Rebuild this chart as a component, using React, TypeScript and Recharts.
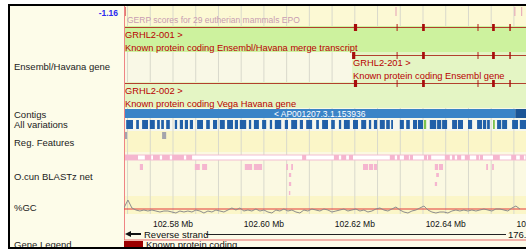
import React from "react";
import {
  ComposedChart,
  LineChart,
  Line,
  XAxis,
  YAxis,
  ReferenceArea,
  ReferenceLine,
} from "recharts";

const FONT = '"Liberation Sans", Arial, sans-serif';

// visible window on the chromosome, in kb
const VIEW_START = 102569.22;
const VIEW_END = 102657.66;
const ONE_PX = 0.22; // kb covered by one pixel at this zoom

// ruler: black 5 kb blocks start at these, labels at the ticks
const rulerBlocks = [102570, 102580, 102590, 102600, 102610, 102620, 102630, 102640, 102650];
const rulerTicks = [102580, 102600, 102620, 102640, 102660];

// GERP
const gerpMarks = [102569.4, 102628.95, 102655.1, 102656.6];

// transcripts
const transcriptIds = ["GRHL2-001", "GRHL2-201", "GRHL2-002"];
const transcriptTypes = [
  "Known protein coding Ensembl/Havana merge transcript",
  "Known protein coding Ensembl gene",
  "Known protein coding Vega Havana gene",
];
const transcriptStarts = [102480.0, 102619.4, 102480.0];
const transcriptEnds = [102720.0, 102720.0, 102720.0];
const exons001 = [
  [102619.8, 102620.5], [102629.2, 102629.4], [102634.8, 102635.4],
  [102647.0, 102647.2], [102650.2, 102650.8], [102654.0, 102654.3],
];
const exons201 = [
  [102619.4, 102620.1], [102629.2, 102629.4], [102634.8, 102635.4],
  [102647.0, 102647.2], [102650.2, 102650.8], [102654.0, 102654.3],
];
const exons002 = [
  [102619.8, 102620.5], [102629.2, 102629.4], [102634.8, 102635.4],
  [102647.0, 102647.2], [102650.2, 102650.8], [102654.0, 102654.3],
];
const transcriptExons = [exons001, exons201, exons002];

// contigs
const contigNames = ["< AP001207.3.1.153936", ""];
const contigStarts = [102500.0, 102655.3];
const contigEnds = [102655.3, 102720.0];

// variations
const variations = [
  [102569.7, 102571.2], [102571.9, 102572.5], [102573.2, 102574.5], [102574.9, 102576.0],
  [102576.5, 102577.1], [102577.4, 102578.0], [102578.5, 102579.3], [102580.4, 102580.9],
  [102581.5, 102582.2], [102582.6, 102583.3], [102583.7, 102584.4], [102585.3, 102586.6],
  [102587.3, 102588.1], [102588.8, 102589.7], [102590.3, 102591.4], [102591.9, 102593.2],
  [102593.6, 102594.3], [102594.7, 102596.1], [102596.7, 102597.2], [102597.8, 102598.9],
  [102599.6, 102600.5], [102601.3, 102601.8], [102602.4, 102603.8], [102604.6, 102605.3],
  [102606.0, 102607.3], [102607.9, 102608.6], [102609.3, 102610.6], [102611.5, 102612.1],
  [102612.8, 102614.1], [102614.8, 102615.6], [102616.5, 102617.0], [102617.6, 102618.9],
  [102619.6, 102620.7], [102621.4, 102622.5], [102623.1, 102623.6], [102624.2, 102624.9],
  [102625.5, 102626.6], [102626.9, 102627.7], [102628.0, 102628.4], [102629.9, 102630.8],
  [102631.3, 102632.1], [102632.8, 102633.7], [102633.9, 102635.0], [102636.5, 102637.9],
  [102638.1, 102639.0], [102639.2, 102640.3], [102641.4, 102642.5], [102642.7, 102643.8],
  [102644.9, 102645.8], [102646.9, 102648.0], [102648.2, 102648.9], [102649.1, 102649.7],
  [102651.3, 102652.2], [102652.4, 102653.5], [102654.6, 102655.9], [102656.3, 102657.7],
];
const variationsGreen = [[102635.2, 102635.7], [102650.4, 102650.8]];

// regulatory features
const regFeatures = [[102569.4, 102569.9], [102577.6, 102578.5]];

// O.cun BLASTz net, one list per row
const netRow1 = [
  [102569.2, 102572.3], [102573.8, 102575.2], [102575.6, 102577.1], [102577.6, 102579.3],
  [102579.8, 102582.4], [102582.9, 102584.2], [102608.4, 102609.3], [102615.4, 102616.5],
  [102617.0, 102618.1], [102618.7, 102619.6], [102627.7, 102628.8], [102629.3, 102629.9],
  [102630.8, 102631.9], [102632.1, 102632.8], [102635.2, 102635.9], [102636.1, 102636.8],
  [102639.8, 102640.9], [102641.4, 102642.0], [102642.5, 102643.4], [102644.2, 102645.3],
  [102646.7, 102647.3], [102647.5, 102648.2], [102650.4, 102651.9], [102654.4, 102655.5],
  [102656.3, 102657.2],
];
const netRow2 = [
  [102572.7, 102573.4], [102584.8, 102585.9], [102586.4, 102587.5], [102595.8, 102597.4],
  [102597.8, 102599.6], [102604.9, 102605.3], [102606.0, 102606.4], [102621.8, 102622.9],
  [102623.1, 102624.0], [102624.2, 102624.9], [102637.6, 102638.3], [102638.5, 102639.4],
  [102648.9, 102649.3], [102650.2, 102650.6],
];
const netRow3 = [[102605.5, 102606.0], [102637.9, 102638.5]];
const netRow4 = [[102605.5, 102606.0], [102637.6, 102638.1]];
const netRow5 = [[102605.5, 102605.8]];
const netRows = [netRow1, netRow2, netRow3, netRow4, netRow5];

// %GC in 0.88 kb windows
const gcStart = 102569.2;
const gcStep = 0.88;
const gcValues = [
  51, 59, 51, 49, 48, 49, 48, 49, 48, 47, 48, 48, 47, 46, 48, 47, 48, 47, 49, 48,
  46, 48, 47, 49, 48, 47, 49, 51, 49, 51, 48, 49, 48, 50, 48, 49, 47, 46, 49, 48,
  50, 48, 49, 47, 46, 49, 48, 50, 49, 48, 50, 49, 47, 48, 49, 50, 48, 49, 50, 48,
  49, 47, 48, 50, 51, 49, 48, 50, 52, 49, 47, 46, 48, 49, 51, 53, 49, 47, 46, 47,
  47, 46, 48, 49, 48, 49, 48, 49, 48, 49, 50, 49, 48, 50, 50, 49, 48, 51, 53, 50,
];
const gcData = gcValues.map((gc, i) => ({ x: gcStart + i * gcStep, gc }));

// layout (pixel rows of the tracks)
const TX_LINE = [27, 55, 83];
const TX_BAND = [
  [26, 52, "#cdf29e"],
  [52, 82, "#e4f5c4"],
  [82, 108, "#e4f5c4"],
];
const NET_Y = [[155, 160], [164, 170], [173, 177], [182, 186], [191, 195]];
const ROW_BG: [number, number, string][] = [
  [6, 26, "#fcf9d4"],
  [26, 119, "#f9f8e6"],
  [119, 131, "#f6f7ee"],
  [131, 152, "#fbf6c8"],
  [152, 196, "#fbf9e2"],
  [196, 214, "#fbf6c8"],
  [214, 250, "#fcfae8"],
];

const TranscriptText = ({ viewBox, name, type }: any) => {
  if (!viewBox) return null;
  return (
    <g fontFamily={FONT} fontSize={9.3} fill="#b80000">
      <text x={viewBox.x + 1} y={viewBox.y + 11}>{name} &gt;</text>
      <text x={viewBox.x + 1} y={viewBox.y + 24}>{type}</text>
    </g>
  );
};

const box = (key: string, x1: number, x2: number, y1: number, y2: number, fill: string, extra: any = {}) => (
  <ReferenceArea
    key={key}
    x1={x1}
    x2={x2}
    y1={y1}
    y2={y2}
    fill={fill}
    fillOpacity={1}
    stroke="none"
    ifOverflow="hidden"
    {...extra}
  />
);

const gridMarks = rulerBlocks.flatMap((b) => [b, b + 5]);

const leftLabels: [string, number][] = [
  ["Ensembl/Havana gene", 67],
  ["Contigs", 115],
  ["All variations", 124.5],
  ["Reg. Features", 143],
  ["O.cun BLASTz net", 177],
  ["%GC", 208],
  ["Gene Legend", 245],
];

export default function App() {
  return (
    <div
      style={{
        position: "absolute",
        left: 0,
        top: 0,
        width: 526,
        height: 250,
        overflow: "hidden",
        background: "#ffffff",
        fontFamily: FONT,
      }}
    >
      {/* label column */}
      <div style={{ position: "absolute", left: 10, top: 6, width: 114, height: 241, background: "#fdfce9" }} />

      <div style={{ position: "absolute", left: 0, top: 0 }}>
        <ComposedChart width={526} height={250} margin={{ top: 0, right: 0, bottom: 0, left: 124 }} data={[]}>
          <XAxis type="number" dataKey="x" domain={[VIEW_START, VIEW_END]} allowDataOverflow hide />
          <YAxis type="number" domain={[0, 250]} reversed allowDataOverflow hide />

          {ROW_BG.map(([y1, y2, c], i) => box(`bg${i}`, VIEW_START, VIEW_END, y1, y2, c))}

          {gridMarks.map((g, i) => box(`grid${i}`, g - ONE_PX / 2, g + ONE_PX / 2, 6, 214, "#d9d9cc"))}

          {TX_BAND.map(([y1, y2, c], i) =>
            box(`band${i}`, Math.max(transcriptStarts[i], VIEW_START), VIEW_END, y1 as number, y2 as number, c as string)
          )}

          {contigStarts.map((s, i) =>
            box(`contig${i}`, Math.max(s, VIEW_START), Math.min(contigEnds[i], VIEW_END), 109, 118, i === 0 ? "#3a84c7" : "#1b5596", {
              label: contigNames[i]
                ? { value: contigNames[i], position: "center", fill: "#ffffff", fontSize: 8.5, fontFamily: FONT }
                : undefined,
            })
          )}

          {variations.map(([s, e], i) => box(`var${i}`, s, e, 120, 129, "#2160a8"))}
          {variationsGreen.map(([s, e], i) => box(`varg${i}`, s, e, 120, 129, "#7cc24e"))}

          {regFeatures.map(([s, e], i) => box(`reg${i}`, s, e, 132, 139, "#a4a4ac"))}

          {box("netbase", VIEW_START, VIEW_END, 155, 160, "#ffffff", { stroke: "#f3bdd2", strokeWidth: 1 })}
          {netRows.map((row, r) =>
            row.map(([s, e], i) => box(`net${r}-${i}`, s, e, NET_Y[r][0], NET_Y[r][1], "#f5b6cf"))
          )}

          {gerpMarks.map((g, i) => box(`gerp${i}`, g, g + ONE_PX, 7, 16, i === 0 ? "#d86060" : "#e4a0b6"))}

          {transcriptIds.map((id, i) =>
            box(`intron${i}`, Math.max(transcriptStarts[i], VIEW_START), Math.min(transcriptEnds[i], VIEW_END), TX_LINE[i], TX_LINE[i] + 1, "#b2402e", {
              label: <TranscriptText name={id} type={transcriptTypes[i]} />,
            })
          )}
          {transcriptExons.map((exons, t) =>
            exons.map(([s, e], i) => box(`exon${t}-${i}`, s, e, TX_LINE[t] - 3, TX_LINE[t] + 4, "#a80c0c"))
          )}

          {/* selection box */}
          {box("redv", VIEW_START, VIEW_START + ONE_PX, 6, 240, "#ef8484")}
          {box("redh", VIEW_START, VIEW_END, 239.5, 240.5, "#e86a6a")}
        </ComposedChart>
      </div>

      {/* %GC track */}
      <div style={{ position: "absolute", left: 0, top: 196 }}>
        <LineChart width={526} height={20} margin={{ top: 0, right: 0, bottom: 0, left: 124 }} data={gcData}>
          <XAxis type="number" dataKey="x" domain={[VIEW_START, VIEW_END]} allowDataOverflow hide />
          <YAxis type="number" domain={[43, 63]} allowDataOverflow hide />
          <ReferenceLine y={50} stroke="#e23a3a" strokeWidth={1} />
          <Line dataKey="gc" stroke="#8c8c8c" strokeWidth={1} dot={false} isAnimationActive={false} />
        </LineChart>
      </div>

      {/* ruler */}
      <div style={{ position: "absolute", left: 0, top: 214 }}>
        <ComposedChart width={526} height={15} margin={{ top: 3, right: 0, bottom: 0, left: 124 }} data={[]}>
          <XAxis
            type="number"
            dataKey="x"
            domain={[VIEW_START, VIEW_END]}
            allowDataOverflow
            ticks={rulerTicks}
            interval={0}
            height={8}
            axisLine={false}
            tickLine={false}
            tickSize={0}
            tickMargin={0}
            tick={{ fontSize: 8.5, fill: "#111", fontFamily: FONT }}
            tickFormatter={(v: number) => `${(v / 1000).toFixed(2)} Mb`}
          />
          <YAxis type="number" domain={[0, 1]} hide />
          {box("ruler", VIEW_START, VIEW_END, 0, 1, "#dedede", { stroke: "#555", strokeWidth: 1 })}
          {rulerBlocks.map((b, i) => box(`rb${i}`, b, b + 5, 0, 1, "#111111"))}
        </ComposedChart>
      </div>

      {/* left column labels */}
      {leftLabels.map(([t, cy]) => (
        <div
          key={t}
          style={{ position: "absolute", left: 14, top: cy - 6, fontSize: 9.5, lineHeight: "12px", color: "#222", whiteSpace: "nowrap" }}
        >
          {t}
        </div>
      ))}
      <div style={{ position: "absolute", right: 526 - 118, top: 7, fontSize: 8.5, lineHeight: "12px", color: "#2b2bf0", fontWeight: "bold" }}>
        -1.16
      </div>

      {/* GERP caption */}
      <div style={{ position: "absolute", left: 127, top: 14, fontSize: 8.5, lineHeight: "12px", color: "#c89cb2", whiteSpace: "nowrap" }}>
        GERP scores for 29 eutherian mammals EPO
      </div>

      {/* strand row */}
      <svg style={{ position: "absolute", left: 0, top: 0 }} width={526} height={250}>
        <polygon points="125,234 131,231 131,237" fill="#111" />
        <rect x={131} y={233} width={10} height={2} fill="#111" />
        <rect x={206} y={234} width={300} height={1} fill="#222" />
      </svg>
      <div style={{ position: "absolute", left: 144, top: 229.5, fontSize: 9.5, lineHeight: "10px", color: "#111", whiteSpace: "nowrap" }}>
        Reverse strand
      </div>
      <div style={{ position: "absolute", left: 508, top: 229.5, width: 18, overflow: "hidden", fontSize: 9.5, lineHeight: "10px", color: "#111", whiteSpace: "nowrap" }}>
        176.86 Kb
      </div>

      {/* gene legend */}
      <div style={{ position: "absolute", left: 124, top: 241, width: 19, height: 7, background: "#9c0000" }} />
      <div style={{ position: "absolute", left: 146, top: 239, fontSize: 9.5, lineHeight: "12px", color: "#111", whiteSpace: "nowrap" }}>
        Known protein coding
      </div>

      {/* frame */}
      <div
        style={{
          position: "absolute",
          left: 8,
          top: 4,
          width: 530,
          height: 241,
          borderTop: "2px solid #000",
          borderLeft: "2px solid #000",
          borderBottom: "2px solid #000",
        }}
      />
      <div style={{ position: "absolute", left: 0, top: 249, width: 526, height: 1, background: "#fff" }} />
    </div>
  );
}
